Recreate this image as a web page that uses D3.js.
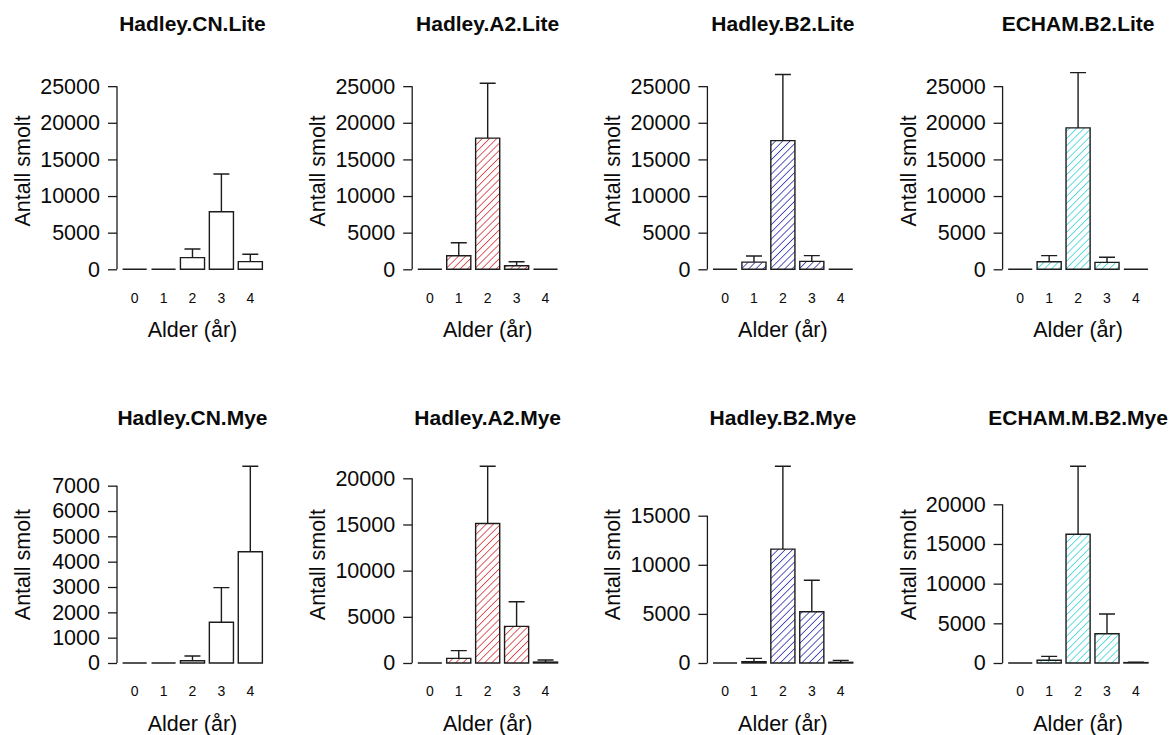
<!DOCTYPE html>
<html>
<head>
<meta charset="utf-8">
<script src="https://cdn.jsdelivr.net/npm/d3@7"></script>
<style>
  html, body { margin: 0; padding: 0; background: #fff; }
  svg { display: block; font-family: "Liberation Sans", Arial, sans-serif; }
</style>
</head>
<body>
<svg id="chart" width="1175" height="735"></svg>
<script>
// Smolt age distribution per climate scenario: mean count and mean + SE per age class
const ages = ["0", "1", "2", "3", "4"];

const titlesLite = ["Hadley.CN.Lite", "Hadley.A2.Lite", "Hadley.B2.Lite", "ECHAM.B2.Lite"];
const titlesMye  = ["Hadley.CN.Mye", "Hadley.A2.Mye", "Hadley.B2.Mye", "ECHAM.M.B2.Mye"];

const meanHadleyCNLite = [0, 0, 1600, 7850, 1050];
const upperHadleyCNLite = [0, 0, 2780, 13000, 2050];
const meanHadleyA2Lite = [0, 1850, 17900, 480, 0];
const upperHadleyA2Lite = [0, 3630, 25400, 1040, 0];
const meanHadleyB2Lite = [0, 980, 17570, 1080, 0];
const upperHadleyB2Lite = [0, 1820, 26600, 1860, 0];
const meanECHAMB2Lite = [0, 1040, 19300, 940, 0];
const upperECHAMB2Lite = [0, 1860, 26850, 1640, 0];

const meanHadleyCNMye = [0, 0, 90, 1610, 4390];
const upperHadleyCNMye = [0, 0, 276, 2975, 7765];
const meanHadleyA2Mye = [0, 505, 15100, 3970, 100];
const upperHadleyA2Mye = [0, 1335, 21300, 6640, 325];
const meanHadleyB2Mye = [0, 135, 11600, 5225, 70];
const upperHadleyB2Mye = [0, 475, 20030, 8420, 270];
const meanECHAMMB2Mye = [0, 340, 16220, 3690, 50];
const upperECHAMMB2Mye = [0, 840, 24790, 6180, 110];

const ticksLite = [
  [0, 5000, 10000, 15000, 20000, 25000],
  [0, 5000, 10000, 15000, 20000, 25000],
  [0, 5000, 10000, 15000, 20000, 25000],
  [0, 5000, 10000, 15000, 20000, 25000]
];
const ticksMye = [
  [0, 1000, 2000, 3000, 4000, 5000, 6000, 7000],
  [0, 5000, 10000, 15000, 20000],
  [0, 5000, 10000, 15000],
  [0, 5000, 10000, 15000, 20000]
];

const fillStyles = ["none", "hatch-red", "hatch-blue", "hatch-cyan"];
const hatchColors = { "hatch-red": "#d42a30", "hatch-blue": "#2424b0", "hatch-cyan": "#2fd2d6" };

const yLabel = "Antall smolt";
const xLabel = "Alder (år)";

// ---- layout ----
const svg = d3.select("#chart");
const firstAxisX = 117;
const panelStep = 295.2;
const rowZeroY = [269.3, 663];
const dataHeight = 196.7;      // pixel height from 0 to the panel's y-limit
const unit = 24.1;             // bar width in pixels (barplot units)
const ink = "#1c1c1c";

// Hatch patterns
const defs = svg.append("defs");
Object.entries(hatchColors).forEach(([id, col]) => {
  const p = defs.append("pattern")
    .attr("id", id)
    .attr("patternUnits", "userSpaceOnUse")
    .attr("width", 5.1).attr("height", 5.1)
    .attr("patternTransform", "rotate(45)");
  p.append("line")
    .attr("x1", 0).attr("y1", -1).attr("x2", 0).attr("y2", 7)
    .attr("stroke", col).attr("stroke-width", 1.5);
});

const rows = [
  {
    titles: titlesLite,
    means: [meanHadleyCNLite, meanHadleyA2Lite, meanHadleyB2Lite, meanECHAMB2Lite],
    uppers: [upperHadleyCNLite, upperHadleyA2Lite, upperHadleyB2Lite, upperECHAMB2Lite],
    ticks: ticksLite,
    shared: true
  },
  {
    titles: titlesMye,
    means: [meanHadleyCNMye, meanHadleyA2Mye, meanHadleyB2Mye, meanECHAMMB2Mye],
    uppers: [upperHadleyCNMye, upperHadleyA2Mye, upperHadleyB2Mye, upperECHAMMB2Mye],
    ticks: ticksMye,
    shared: false
  }
];

rows.forEach((row, r) => {
  const zeroY = rowZeroY[r];
  const rowMax = d3.max(row.uppers.flat());

  row.titles.forEach((title, c) => {
    const axisX = firstAxisX + c * panelStep;
    const means = row.means[c];
    const uppers = row.uppers[c];
    const ymax = row.shared ? rowMax : d3.max(uppers);

    const y = d3.scaleLinear().domain([0, ymax]).range([zeroY, zeroY - dataHeight]);
    // barplot coordinates: bars of width 1 with 0.2 spacing, limits padded by 4%
    const x = d3.scaleLinear().domain([-0.032, 6.232]).range([axisX, axisX + 6.264 * unit]);
    const barLeft = i => 0.2 + 1.2 * i;

    const g = svg.append("g");

    // title
    g.append("text")
      .attr("x", x(3.1)).attr("y", zeroY - 238)
      .attr("text-anchor", "middle")
      .attr("font-weight", "bold").attr("font-size", 21)
      .attr("fill", "#0a0a0a")
      .text(title);

    // y axis
    const yAxis = d3.axisLeft(y).tickValues(row.ticks[c]).tickSize(9).tickPadding(8)
      .tickFormat(d3.format("d"));
    const ya = g.append("g").attr("transform", `translate(${axisX},0)`).call(yAxis);
    ya.select(".domain").attr("d", `M-0,${y(d3.min(row.ticks[c]))}V${y(d3.max(row.ticks[c]))}`)
      .attr("stroke", ink).attr("stroke-width", 1.3);
    ya.selectAll(".tick line").attr("stroke", ink).attr("stroke-width", 1.3);
    ya.selectAll(".tick text")
      .attr("font-size", 21.5).attr("fill", "#0a0a0a")
      .attr("font-family", "'Liberation Sans', Arial, sans-serif");

    // y label
    g.append("text")
      .attr("transform", `translate(${axisX - 87},${zeroY - dataHeight / 2}) rotate(-90)`)
      .attr("text-anchor", "middle")
      .attr("font-size", 21.5).attr("fill", "#0a0a0a")
      .text(yLabel);

    // bars (paths so that zero-height bars still show as a line)
    g.selectAll("path.bar").data(means).enter().append("path")
      .attr("class", "bar")
      .attr("d", (v, i) => {
        const x0 = x(barLeft(i)), x1 = x(barLeft(i) + 1), y0 = y(0), y1 = y(v);
        return `M${x0},${y0}H${x1}V${y1}H${x0}Z`;
      })
      .attr("fill", fillStyles[c] === "none" ? "#fff" : `url(#${fillStyles[c]})`)
      .attr("stroke", ink).attr("stroke-width", 1.4);

    // error bars (upward only) with caps
    means.forEach((v, i) => {
      const u = uppers[i];
      if (u <= v) return;
      const cx = x(barLeft(i) + 0.5);
      g.append("path")
        .attr("d", `M${cx},${y(v)}V${y(u)}M${cx - 8},${y(u)}H${cx + 8}`)
        .attr("fill", "none").attr("stroke", ink).attr("stroke-width", 1.4);
    });

    // x category labels
    g.selectAll("text.age").data(ages).enter().append("text")
      .attr("class", "age")
      .attr("x", (d, i) => x(barLeft(i) + 0.5))
      .attr("y", zeroY + 33.4)
      .attr("text-anchor", "middle")
      .attr("font-size", 14).attr("fill", "#0a0a0a")
      .text(d => d);

    // x label
    g.append("text")
      .attr("x", x(3.1)).attr("y", zeroY + 68)
      .attr("text-anchor", "middle")
      .attr("font-size", 21.5).attr("fill", "#0a0a0a")
      .text(xLabel);
  });
});
</script>
</body>
</html>
